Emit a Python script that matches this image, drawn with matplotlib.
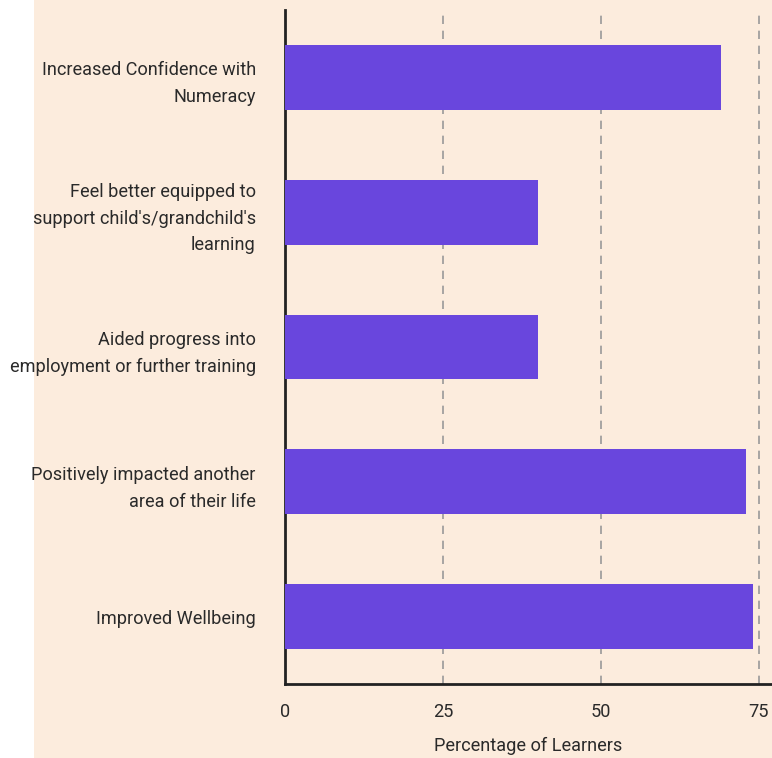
import matplotlib
matplotlib.use('Agg')
import matplotlib.pyplot as plt
from matplotlib.patches import Rectangle

plt.rcParams['font.family'] = ['Roboto', 'DejaVu Sans']

categories = ['Increased Confidence with\nNumeracy',
              "Feel better equipped to\nsupport child's/grandchild's\nlearning",
              'Aided progress into\nemployment or further training',
              'Positively impacted another\narea of their life',
              'Improved Wellbeing']
values = [69, 40, 40, 73, 74]
xticks = [0, 25, 50, 75]

bg = '#FCECDD'
bar_color = '#6946DD'

fig = plt.figure(figsize=(7.72, 7.58), dpi=100, facecolor='white')
fig.patches.append(Rectangle((34 / 772, 0), 1, 1, transform=fig.transFigure,
                             facecolor=bg, edgecolor='none', zorder=-10))
ax = fig.add_axes([285 / 772, (758 - 684) / 758, (772 - 285) / 772, (684 - 10) / 758])
ax.set_facecolor(bg)

ypos = list(range(len(categories)))
ax.barh(ypos, values, height=0.48, color=bar_color, zorder=3)
ax.set_yticks(ypos)
ax.set_yticklabels(categories, fontsize=13.1, color='#2a2a2a', linespacing=1.63)
ax.set_ylim(4.5, -0.5)
ax.set_xlim(0, 77.06)
ax.set_xticks(xticks)
ax.set_xticklabels([str(t) for t in xticks], fontsize=13.1, color='#2a2a2a')
ax.tick_params(axis='y', length=0, pad=21)
ax.tick_params(axis='x', length=0, pad=14)
ax.set_xlabel('Percentage of Learners', fontsize=13.1, color='#2a2a2a', labelpad=11)

ax.grid(axis='x', color='#999999', linestyle=(0, (5, 4)), linewidth=1.2, zorder=0)
for s in ['top', 'right']:
    ax.spines[s].set_visible(False)
for s in ['left', 'bottom']:
    ax.spines[s].set_color('#222222')
    ax.spines[s].set_linewidth(2)

fig.savefig('out.png', dpi=100, facecolor=fig.get_facecolor())
